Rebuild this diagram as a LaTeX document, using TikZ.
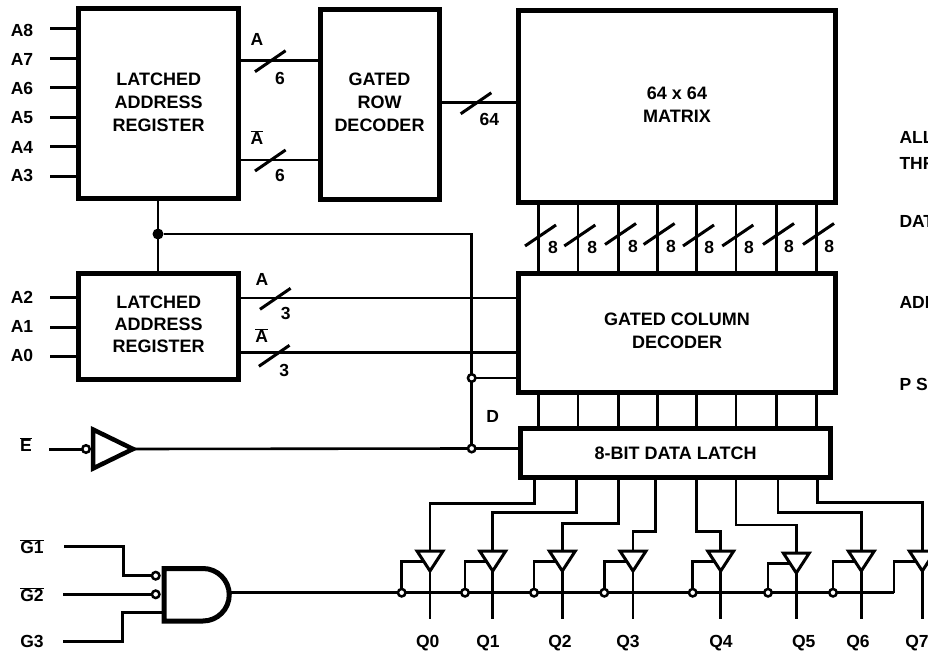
\documentclass[tikz,border=0pt]{standalone}
\usepackage{fontspec}
\setmainfont{Liberation Sans}
\usetikzlibrary{calc,positioning}

\newcommand{\nbar}[1]{$\overline{\mbox{#1}}$}
\newcommand{\lift}{\rule[-4pt]{0pt}{4pt}}

\tikzset{
  lab/.style={font=\fontsize{17.5}{23}\selectfont\bfseries,inner sep=0pt,text height=13pt,text depth=0pt},
  block/.style={draw,line width=5pt,outer sep=0pt,inner sep=0pt,align=center,font=\fontsize{18}{23}\selectfont\bfseries},
  wire/.style={line width=2.6pt},
  pin/.style={line width=3pt},
  slash/.style={line width=3pt},
  hollow/.style={circle,draw,fill=white,line width=2.5pt,inner sep=0pt,minimum size=7.5pt,outer sep=0pt},
  solid dot/.style={circle,fill=black,inner sep=0pt,minimum size=11pt,outer sep=0pt}
}

\begin{document}
\begin{tikzpicture}[x=1pt,y=-1pt]
\useasboundingbox (0,0) rectangle (928,652);

% the blocks
\node[block,minimum width=159.5pt,minimum height=190pt] (larhigh) at (158.7,104) {LATCHED\\ADDRESS\\REGISTER\lift};
\node[block,minimum width=119pt,minimum height=190pt] (rowdec) at (379.5,104.5) {GATED\\ROW\\DECODER\lift};
\node[block,minimum width=317pt,minimum height=191.5pt] (matrix) at (677,106.7) {64 x 64\\MATRIX\lift};
\node[block,minimum width=159.5pt,minimum height=106pt] (larlow) at (158.7,326.2) {LATCHED\\[-1pt]ADDRESS\\[-1pt]REGISTER\lift};
\node[block,minimum width=317pt,minimum height=119pt] (coldec) at (677,333) {GATED COLUMN\\DECODER\lift};
\node[block,minimum width=310pt,minimum height=49pt] (latch) at (675.5,453) {8-BIT DATA LATCH};

% address pins
\def\pinshigh{8/30/29,7/59/58.7,6/88/88,5/117/118,4/147/147,3/175/177}
\foreach \n/\yl/\yp in \pinshigh
{
  \node[lab] (a\n) at (22,\yl) {A\n};
  \coordinate (ain\n) at (50,\yp);
  \draw[pin] (ain\n) -- (ain\n -| larhigh.west);
}
\def\pinslow{2/297/297.7,1/326/327,0/355/356.7}
\foreach \n/\yl/\yp in \pinslow
{
  \node[lab] (a\n) at (22,\yl) {A\n};
  \coordinate (ain\n) at (50,\yp);
  \draw[pin] (ain\n) -- (ain\n -| larlow.west);
}

% the buses with a slash
\coordinate (rowhi) at (0,60.7);
\coordinate (rowlo) at (0,160);
\coordinate (colhi) at (0,298);
\coordinate (collo) at (0,352.7);
\coordinate (rowout) at (0,102.7);
\draw[wire] (larhigh.east |- rowhi) -- (rowdec.west |- rowhi);
\draw[wire] (larhigh.east |- rowlo) -- (rowdec.west |- rowlo);
\draw[wire] (larlow.east |- colhi) -- (coldec.west |- colhi);
\draw[wire] (larlow.east |- collo) -- (coldec.west |- collo);
\draw[wire] (rowdec.east |- rowout) -- (matrix.west |- rowout);

\def\slashes{270.3/61.2,270.3/160.5,275.3/298.8,274.2/355.8,476/103.3}
\foreach \xs/\ys in \slashes
  \draw[slash] (\xs-15.3,\ys+10.5) -- (\xs+15.3,\ys-10.5);

\def\buswidths{280/78/6,280/175/6,285.7/313/3,284.3/370/3,489.3/119.3/64}
\foreach \xn/\yn/\w [count=\ni] in \buswidths
  \node[lab] (buswidth\ni) at (\xn,\yn) {\w};

\node[lab] (busa1) at (257,39) {A};
\node[lab] (busa2) at (257,138) {\nbar{A}};
\node[lab] (busa3) at (262,279) {A};
\node[lab] (busa4) at (261.7,336) {\nbar{A}};

% link between the two registers and the D line
\node[solid dot] (join) at (158,234) {};
\node[hollow] (dcol) at (471.7,378) {};
\node[hollow] (dlat) at (471.7,448.5) {};
\draw[wire] (larhigh.south -| join) -- (larlow.north -| join);
\draw[wire] (join) -| (dcol);
\draw[wire] (dcol) -- (dlat);
\draw[wire] (dcol) -- (dcol -| coldec.west);
\node[lab] (dname) at (492.7,415.7) {D};

% the enable inverter
\node[lab] (ename) at (26,445) {\nbar{E}};
\coordinate (ein) at (49,449);
\node[hollow] (ebub) at (86,449) {};
\coordinate (etip) at (133,449);
\draw[pin] (ein) -- (ebub);
\draw[line width=4.5pt,miter limit=10] (93,429.5) -- (etip) -- (93,468.5) -- cycle;
\draw[wire] (etip) -- (dlat);
\draw[wire] (dlat) -- (dlat -| latch.west);

% column lines, matrix to decoder to latch
\def\cols{538.7/246/339,578/246/457,618.7/244.5/579,657.3/244.5/693,696.7/246/808,736/246/927,776.7/244.5/1047,816.7/244.5/1168}
\foreach \x/\ys/\xl [count=\ni] in \cols
{
  \coordinate (mout\ni) at (\x,202.5);
  \coordinate (cin\ni) at (\x,273.5);
  \coordinate (cout\ni) at (\x,392.5);
  \coordinate (lin\ni) at (\x,428.5);
  \draw[wire] (mout\ni) -- (cin\ni);
  \draw[wire] (cout\ni) -- (lin\ni);
  \draw[slash] (\x-13.7,\ys) -- (\x+17.3,\ys-21);
  \node[lab] (cw\ni) at ({440+\xl/3},\ys+1) {8};
}

% the output buffers
\def\bufs{
 430/534.3/503.3/401.7/427.7/551,
 492.7/576.3/512.3/465/488/551,
 562.3/618.7/523.3/534/560/551,
 633/655.3/531.7/604.3/628/551,
 720.7/696.7/531.7/692.7/721/551,
 796.3/736/525/768/803.7/553,
 861.3/778/512.3/833/858/551,
 922.3/817.7/502.7/894/917/551
}
\coordinate (gout) at (229,592.7);
\foreach \xb/\xo/\yh/\xe/\xl/\yt [count=\ni from 0] in \bufs
{
  \coordinate (lout\ni) at (\xo,477.5);
  \coordinate (bend\ni) at (\xo,\yh);
  \coordinate (btop\ni) at (\xb,\yt);
  \coordinate (btip\ni) at (\xb,\yt+20);
  \coordinate (bend2\ni) at (\xb,\yh);
  \coordinate (qend\ni) at (\xb,619);
  \coordinate (ecorner\ni) at (\xe,\yt+10.5);
  \coordinate (eedge\ni) at (\xb-6.2,\yt+10.5);
  \draw[wire] (lout\ni) -- (bend\ni) -- (bend2\ni) -- (btop\ni);
  \draw[line width=3pt,miter limit=10] (\xb-13,\yt) -- (\xb+13,\yt) -- (btip\ni) -- cycle;
  \draw[wire] (btip\ni) -- (qend\ni);
  \draw[wire] (\xe,592.7) -- (ecorner\ni) -- (eedge\ni);
  \node[lab] (q\ni) at (\xl,641) {Q\ni};
}
% enable rail
\draw[wire] (gout) -- (894,592.7);
\foreach \xe [count=\ni from 0] in {401.7,465,534,604.3,692.7,768,833}
  \node[hollow] (en\ni) at (\xe,592.7) {};

% the gate
\node[lab] (g1) at (32,547) {\nbar{G1}};
\node[lab] (g2) at (32,595) {\nbar{G2}};
\node[lab] (g3) at (32,641) {G3};
\coordinate (gin1) at (64,546);
\coordinate (gin2) at (63,594.3);
\coordinate (gin3) at (63,641.7);
\node[hollow] (gb1) at (155.7,575.7) {};
\node[hollow] (gb2) at (155.7,594.3) {};
\draw[pin] (gin1) -- (123.3,546) -- (123.3,575.7) -- (gb1);
\draw[pin] (gin2) -- (gb2);
\draw[pin] (gin3) -- (122,641.7) -- (122,612.7) -- (164,612.7);
\draw[line width=5pt] (164,568.5) -- (203,568.5) arc (-90:90:26.25) -- (164,621) -- cycle;

% text at the right edge
\def\edgetext{ALL/136.7,THR/163,DAT/220.7,ADD/301.7,P S/384}
\foreach \t/\y [count=\ni] in \edgetext
  \node[lab,anchor=west] (note\ni) at (899.3,\y) {\t};
\end{tikzpicture}
\end{document}
